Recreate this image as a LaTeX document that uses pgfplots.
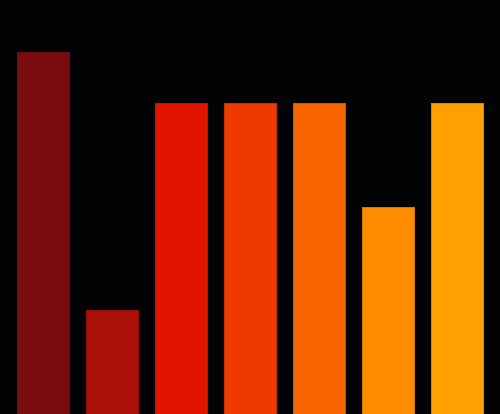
\documentclass[border=0pt]{standalone}
\usepackage{pgfplots}
\pgfplotsset{compat=1.18}
\definecolor{bg}{HTML}{030205}
\definecolor{c1}{HTML}{7A0C10}
\definecolor{c2}{HTML}{AA1008}
\definecolor{c3}{HTML}{E21400}
\definecolor{c4}{HTML}{EE3A00}
\definecolor{c5}{HTML}{F86400}
\definecolor{c6}{HTML}{FF8C00}
\definecolor{c7}{HTML}{FFA000}
\begin{document}
\begin{tikzpicture}
\begin{axis}[
    width=12cm, height=9.936cm,
    scale only axis,
    xmin=-0.623, xmax=6.623,
    ymin=0, ymax=8,
    ticks=none,
    axis line style={draw=none},
    axis background/.style={fill=bg},
    ybar, bar width=0.754, bar shift=0pt,
]
% one plot per bar so each gets its own colour
\addplot[fill=c1, draw=c1!85!black, line width=0.3pt] coordinates {(0,7)};
\addplot[fill=c2, draw=c2!85!black, line width=0.3pt] coordinates {(1,2)};
\addplot[fill=c3, draw=c3!85!black, line width=0.3pt] coordinates {(2,6)};
\addplot[fill=c4, draw=c4!85!black, line width=0.3pt] coordinates {(3,6)};
\addplot[fill=c5, draw=c5!85!black, line width=0.3pt] coordinates {(4,6)};
\addplot[fill=c6, draw=c6!85!black, line width=0.3pt] coordinates {(5,4)};
\addplot[fill=c7, draw=c7!85!black, line width=0.3pt] coordinates {(6,6)};
\end{axis}
\end{tikzpicture}
\end{document}
